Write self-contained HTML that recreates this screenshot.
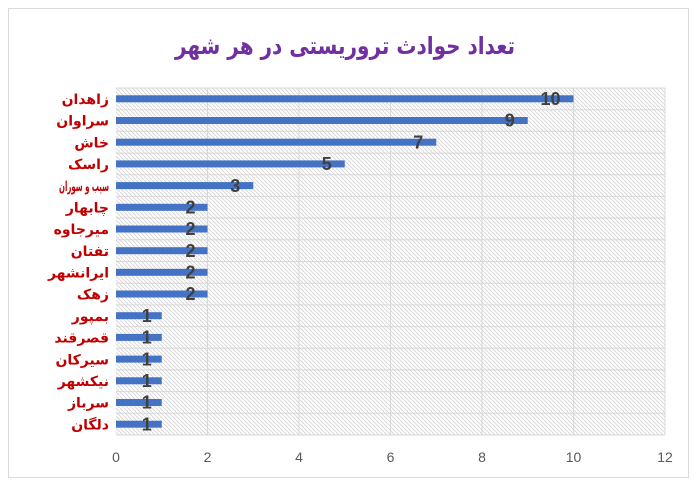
<!DOCTYPE html>
<html><head><meta charset="utf-8"><style>body{margin:0;background:#fff}svg{display:block}</style></head><body>
<svg width="700" height="490" xmlns="http://www.w3.org/2000/svg" font-family="Liberation Sans, DejaVu Sans, sans-serif">
<defs><pattern id="h" width="4" height="4" patternUnits="userSpaceOnUse"><rect width="4" height="4" fill="#fbfbfb"/><path d="M0 0L4 4" stroke="#d6d6d6" stroke-width="0.8"/></pattern></defs>
<rect x="8.5" y="8.5" width="680" height="469" fill="#fff" stroke="#d9d9d9"/>
<text x="345" y="54" text-anchor="middle" font-family="DejaVu Sans, sans-serif" font-weight="bold" font-size="24" fill="#7030a0" textLength="340" lengthAdjust="spacingAndGlyphs">تعداد حوادث تروریستی در هر شهر</text>
<rect x="116" y="88" width="549" height="347" fill="url(#h)"/>
<g stroke="#d9d9d9" stroke-width="1">
<line x1="207.5" y1="88" x2="207.5" y2="435"/><line x1="299" y1="88" x2="299" y2="435"/><line x1="390.5" y1="88" x2="390.5" y2="435"/><line x1="482" y1="88" x2="482" y2="435"/><line x1="573.5" y1="88" x2="573.5" y2="435"/><line x1="665" y1="88" x2="665" y2="435"/>
<line x1="116" y1="88" x2="665" y2="88"/><line x1="116" y1="109.7" x2="665" y2="109.7"/><line x1="116" y1="131.4" x2="665" y2="131.4"/><line x1="116" y1="153.1" x2="665" y2="153.1"/><line x1="116" y1="174.8" x2="665" y2="174.8"/><line x1="116" y1="196.4" x2="665" y2="196.4"/><line x1="116" y1="218.1" x2="665" y2="218.1"/><line x1="116" y1="239.8" x2="665" y2="239.8"/><line x1="116" y1="261.5" x2="665" y2="261.5"/><line x1="116" y1="283.2" x2="665" y2="283.2"/><line x1="116" y1="304.9" x2="665" y2="304.9"/><line x1="116" y1="326.6" x2="665" y2="326.6"/><line x1="116" y1="348.3" x2="665" y2="348.3"/><line x1="116" y1="369.9" x2="665" y2="369.9"/><line x1="116" y1="391.6" x2="665" y2="391.6"/><line x1="116" y1="413.3" x2="665" y2="413.3"/><line x1="116" y1="435" x2="665" y2="435"/>
</g>
<g fill="#4472c4">
<rect x="116" y="95.3" width="457.5" height="7"/>
<rect x="116" y="117" width="411.75" height="7"/>
<rect x="116" y="138.7" width="320.25" height="7"/>
<rect x="116" y="160.4" width="228.75" height="7"/>
<rect x="116" y="182.1" width="137.25" height="7"/>
<rect x="116" y="203.8" width="91.5" height="7"/>
<rect x="116" y="225.5" width="91.5" height="7"/>
<rect x="116" y="247.2" width="91.5" height="7"/>
<rect x="116" y="268.8" width="91.5" height="7"/>
<rect x="116" y="290.5" width="91.5" height="7"/>
<rect x="116" y="312.2" width="45.75" height="7"/>
<rect x="116" y="333.9" width="45.75" height="7"/>
<rect x="116" y="355.6" width="45.75" height="7"/>
<rect x="116" y="377.3" width="45.75" height="7"/>
<rect x="116" y="399" width="45.75" height="7"/>
<rect x="116" y="420.7" width="45.75" height="7"/>
</g>
<g font-size="18" font-weight="bold" fill="#404040" text-anchor="end">
<text x="560.5" y="105">10</text>
<text x="514.75" y="126.7">9</text>
<text x="423.25" y="148.4">7</text>
<text x="331.75" y="170.1">5</text>
<text x="240.25" y="191.8">3</text>
<text x="195.5" y="213.5">2</text>
<text x="195.5" y="235.2">2</text>
<text x="195.5" y="256.9">2</text>
<text x="195.5" y="278.5">2</text>
<text x="195.5" y="300.2">2</text>
<text x="151.75" y="321.9">1</text>
<text x="151.75" y="343.6">1</text>
<text x="151.75" y="365.3">1</text>
<text x="151.75" y="387">1</text>
<text x="151.75" y="408.7">1</text>
<text x="151.75" y="430.4">1</text>
</g>
<g font-family="DejaVu Sans, sans-serif" font-size="14" font-weight="bold" fill="#c00000" text-anchor="end">
<text x="109" y="104">زاهدان</text>
<text x="109" y="125.7">سراوان</text>
<text x="109" y="147.4">خاش</text>
<text x="109" y="169.1">راسک</text>
<text x="109" y="190.8" textLength="50" lengthAdjust="spacingAndGlyphs">سیب و سوران</text>
<text x="109" y="212.5">چابهار</text>
<text x="109" y="234.2">میرجاوه</text>
<text x="109" y="255.9">تفتان</text>
<text x="109" y="277.5">ایرانشهر</text>
<text x="109" y="299.2">زهک</text>
<text x="109" y="320.9">بمپور</text>
<text x="109" y="342.6">قصرقند</text>
<text x="109" y="364.3">سیرکان</text>
<text x="109" y="386">نیکشهر</text>
<text x="109" y="407.7">سرباز</text>
<text x="109" y="429.4">دلگان</text>
</g>
<g font-size="14" fill="#595959" text-anchor="middle">
<text x="116" y="462">0</text><text x="207.5" y="462">2</text><text x="299" y="462">4</text><text x="390.5" y="462">6</text><text x="482" y="462">8</text><text x="573.5" y="462">10</text><text x="665" y="462">12</text>
</g>
</svg>
</body></html>
